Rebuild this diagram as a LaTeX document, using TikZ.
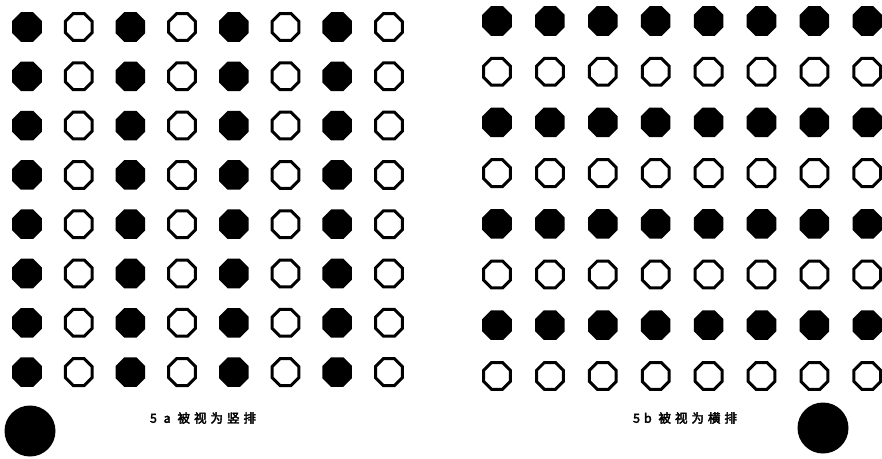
\documentclass[tikz,border=0pt]{standalone}
\usepackage{fontspec}
\newfontfamily\cjk[LetterSpace=32, FakeBold=3]{Noto Sans CJK SC}
\usetikzlibrary{shapes.geometric}
\begin{document}
\begin{tikzpicture}[x=1pt, y=-1pt,
  dotfull/.style={regular polygon, regular polygon sides=8, fill=black, inner sep=0pt, minimum size=32pt},
  dotopen/.style={regular polygon, regular polygon sides=8, draw=black, line width=3pt, inner sep=0pt, minimum size=29pt},
  bigdot/.style={circle, fill=black, inner sep=0pt, minimum size=51pt},
  caption/.style={font=\cjk\fontsize{12.5}{14}\selectfont, inner sep=0pt}
]
\useasboundingbox (0,0) rectangle (882,458);

% 5a: filled columns alternate with open columns
\foreach \r in {0,...,7}
  \foreach \c in {0,...,7} {
    \pgfmathsetmacro\px{27+51.7*\c}
    \pgfmathsetmacro\py{27+49.3*\r}
    \ifodd\c
      \node[dotopen] (a-\r-\c) at (\px,\py) {};
    \else
      \node[dotfull] (a-\r-\c) at (\px,\py) {};
    \fi
  }

% 5b: filled rows alternate with open rows
\foreach \r in {0,...,7}
  \foreach \c in {0,...,7} {
    \pgfmathsetmacro\px{497+52.9*\c}
    \pgfmathsetmacro\py{21+50.7*\r}
    \ifodd\r
      \node[dotopen] (b-\r-\c) at (\px,\py) {};
    \else
      \node[dotfull] (b-\r-\c) at (\px,\py) {};
    \fi
  }

\node[bigdot] (bigA) at (30,431) {};
\node[bigdot] (bigB) at (823,428) {};

\node[caption] (capA) at (203,418) {5 a 被视为竖排};
\node[caption] (capB) at (685,418) {5b 被视为横排};
\end{tikzpicture}
\end{document}
